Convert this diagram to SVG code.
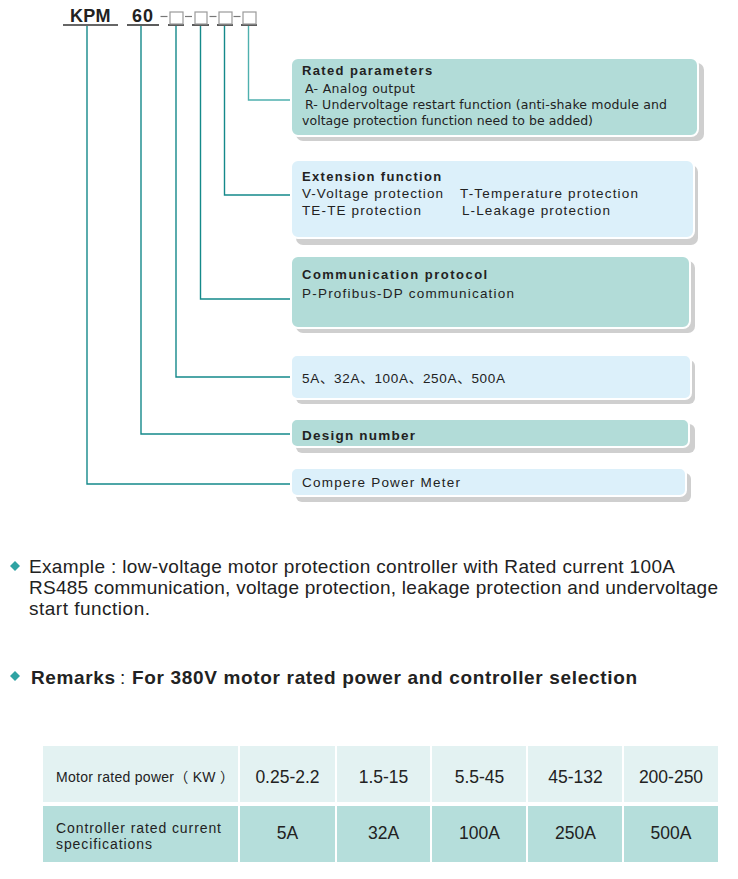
<svg xmlns="http://www.w3.org/2000/svg" width="738" height="879" viewBox="0 0 738 879">
<style>
text{font-family:"Liberation Sans","Noto Sans CJK SC",sans-serif;fill:#222}
.hd{font-size:13px;font-weight:bold;letter-spacing:0.8px}
.bd{font-size:13.5px}
.vd{font-family:"DejaVu Sans","Noto Sans CJK SC",sans-serif;font-size:12.5px}
.tea{fill:#b2dcd8;stroke:#fff;stroke-width:2}
.blu{fill:#dcf0fa;stroke:#fff;stroke-width:2}
.sh{fill:#cfcfcf}
.con{fill:none;stroke:#14898a;stroke-width:1.4}
.ul{stroke:#333;stroke-width:1.6}
.sq{fill:none;stroke:#9a9a9a;stroke-width:1.2}
.dash{stroke:#777;stroke-width:1.2}
.big{font-size:19px}
.cell{font-size:17.5px;text-anchor:middle}
.dia{fill:#2fa3a3}
</style>
<rect width="738" height="879" fill="#fff"/>

<g id="code">
<text x="70" y="22" style="font-size:18px;font-weight:bold;letter-spacing:0.5px" textLength="41">KPM</text>
<text x="132" y="22" style="font-size:18px;font-weight:bold" textLength="21">60</text>
<line class="ul" x1="63" y1="25" x2="118" y2="25"/>
<line class="ul" x1="127" y1="25" x2="159" y2="25"/>
<line class="ul" x1="168" y1="25" x2="184" y2="25"/>
<line class="ul" x1="192" y1="25" x2="209" y2="25"/>
<line class="ul" x1="217" y1="25" x2="233" y2="25"/>
<line class="ul" x1="241" y1="25" x2="257" y2="25"/>
<line class="dash" x1="160.5" y1="16.5" x2="167.5" y2="16.5"/>
<line class="dash" x1="185" y1="16.5" x2="192" y2="16.5"/>
<line class="dash" x1="209.5" y1="16.5" x2="216.5" y2="16.5"/>
<line class="dash" x1="233.5" y1="16.5" x2="240.5" y2="16.5"/>
<rect class="sq" x="170" y="12" width="13" height="12"/>
<rect class="sq" x="195" y="12" width="12" height="12"/>
<rect class="sq" x="219" y="12" width="13" height="12"/>
<rect class="sq" x="243" y="12" width="13" height="12"/>
</g>

<g id="connectors">
<polyline class="con" points="87,26 87,484 291,484"/>
<polyline class="con" points="141,26 141,434 291,434"/>
<polyline class="con" points="176,26 176,377 291,377"/>
<polyline class="con" points="200.5,26 200.5,299 291,299"/>
<polyline class="con" points="224.5,26 224.5,195 291,195"/>
<polyline class="con" points="248.5,26 248.5,100 291,100" style="stroke:#4fb0ae"/>
</g>

<g id="rated">
<rect class="sh" x="296" y="63" width="408" height="78" rx="7"/>
<rect class="tea" x="291" y="58" width="407" height="78" rx="7"/>
<text class="hd" x="302" y="75" textLength="131">Rated parameters</text>
<text class="vd" x="305" y="93" textLength="110">A- Analog  output</text>
<text class="vd" x="305" y="109" textLength="362">R- Undervoltage restart function (anti-shake module and</text>
<text class="vd" x="302" y="125" textLength="291">voltage protection function need to be added)</text>
</g>

<g id="extension">
<rect class="sh" x="296" y="165" width="402" height="80" rx="7"/>
<rect class="blu" x="291" y="160" width="403" height="78" rx="7"/>
<text class="hd" x="302" y="181" textLength="140">Extension function</text>
<text class="bd" x="302" y="198" textLength="141">V-Voltage protection</text>
<text class="bd" x="460" y="198" textLength="178">T-Temperature protection</text>
<text class="bd" x="302" y="215" textLength="119">TE-TE protection</text>
<text class="bd" x="462" y="215" textLength="148">L-Leakage protection</text>
</g>

<g id="communication">
<rect class="sh" x="296" y="261" width="399" height="72" rx="7"/>
<rect class="tea" x="291" y="256" width="399" height="72" rx="7"/>
<text class="hd" x="302" y="279" textLength="186">Communication protocol</text>
<text class="bd" x="302" y="298" textLength="212">P-Profibus-DP communication</text>
</g>

<g id="current">
<rect class="sh" x="296" y="360" width="399" height="44" rx="6"/>
<rect class="blu" x="291" y="355" width="400" height="44" rx="6"/>
<text x="302" y="383" style="font-size:13.5px" textLength="203">5A、32A、100A、250A、500A</text>
</g>

<g id="design">
<rect class="sh" x="296" y="424" width="399" height="29" rx="6"/>
<rect class="tea" x="291" y="419" width="398" height="28" rx="6"/>
<text x="302" y="440" style="font-size:13.5px;font-weight:bold" textLength="113">Design number</text>
</g>

<g id="compere">
<rect class="sh" x="296" y="473" width="395" height="29" rx="6"/>
<rect class="blu" x="291" y="468" width="395" height="28" rx="6"/>
<text x="302" y="487" style="font-size:13.5px" textLength="158">Compere Power Meter</text>
</g>

<g id="example">
<polygon class="dia" points="15,561 20,566 15,571 10,566"/>
<text class="big" x="29" y="573" textLength="646">Example : low-voltage motor protection controller with Rated current 100A</text>
<text class="big" x="29" y="594" textLength="689">RS485 communication, voltage protection, leakage protection and undervoltage</text>
<text class="big" x="29" y="615" textLength="121">start function.</text>
</g>

<g id="remarks">
<polygon class="dia" points="15,671 20,676 15,681 10,676"/>
<text x="31" y="684" style="font-size:19px;font-weight:bold" textLength="84">Remarks</text>
<text x="120" y="684" style="font-size:19px">:</text>
<text x="132" y="684" style="font-size:19px;font-weight:bold" textLength="505">For 380V motor rated power and controller selection</text>
</g>

<g id="table">
<rect x="43" y="746" width="675" height="56" fill="#e3f2f2"/>
<rect x="43" y="806" width="675" height="56" fill="#b5dedb"/>
<g stroke="#fff" stroke-width="2">
<line x1="239" y1="746" x2="239" y2="862"/>
<line x1="336" y1="746" x2="336" y2="862"/>
<line x1="431" y1="746" x2="431" y2="862"/>
<line x1="527" y1="746" x2="527" y2="862"/>
<line x1="623" y1="746" x2="623" y2="862"/>
</g>
<text x="56" y="782" style="font-size:14px" textLength="178">Motor rated power（ KW ）</text>
<text class="cell" x="287.5" y="783">0.25-2.2</text>
<text class="cell" x="383.5" y="783">1.5-15</text>
<text class="cell" x="479.5" y="783">5.5-45</text>
<text class="cell" x="575.5" y="783">45-132</text>
<text class="cell" x="671" y="783">200-250</text>
<text x="56" y="833" style="font-size:14px" textLength="165">Controller rated current</text>
<text x="56" y="849" style="font-size:14px" textLength="96">specifications</text>
<text class="cell" x="287.5" y="839">5A</text>
<text class="cell" x="383.5" y="839">32A</text>
<text class="cell" x="479.5" y="839">100A</text>
<text class="cell" x="575.5" y="839">250A</text>
<text class="cell" x="671" y="839">500A</text>
</g>
</svg>
